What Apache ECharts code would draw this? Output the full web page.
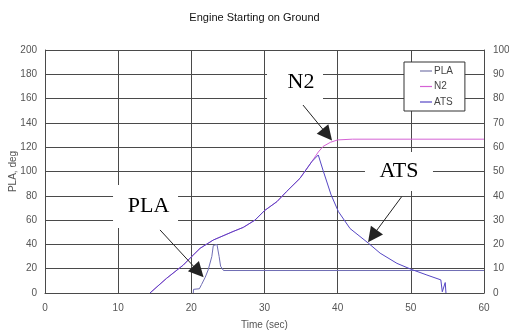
<!DOCTYPE html>
<html>
<head>
<meta charset="utf-8">
<script src="https://cdn.jsdelivr.net/npm/echarts@6/dist/echarts.min.js"></script>
<style>html,body{margin:0;padding:0;background:#fff}#c{width:509px;height:331px}</style>
</head>
<body>
<div id="c"></div>
<script>
// Time (sec), PLA (deg, left axis)
var plaData = [[20.27,0],[20.3,3],[21.1,3.5],[21.4,7],[21.9,13],[22.3,19],[22.5,20],[22.8,30],[23.0,39],[23.2,40.5],[23.5,40],[23.8,30],[24.0,22],[24.4,18.5],[60,18.5]];
// N2 (%, right axis)
var n2Data = [[14.35,0],[16.6,6.0],[18.9,11.5],[20.05,15.0],[21.2,18.4],[23.0,21.8],[25.7,25.3],[27.1,27.0],[28.7,30.0],[30.0,33.9],[31.7,37.6],[33.0,41.7],[34.85,47.2],[36.45,54.0],[37.35,58.0],[38.0,60.3],[39.0,62.0],[40.0,63.0],[42.0,63.3],[60,63.3]];
// ATS (%, right axis)
var atsData = [[14.35,0],[16.6,6.0],[18.9,11.5],[20.05,15.0],[21.2,18.4],[23.0,21.8],[25.7,25.3],[27.1,27.0],[28.7,30.0],[30.0,33.9],[31.7,37.6],[33.0,41.7],[34.85,47.2],[36.45,54.0],[37.35,56.8],[38.0,50.5],[39.1,40.4],[40.1,33.5],[41.7,26.5],[44.2,20.5],[45.8,16.4],[48.1,12.2],[50.0,9.8],[52.2,7.4],[54.1,5.4],[54.3,0.5],[54.5,0],[54.7,4.3],[54.8,0]];
var seriesNames = ['PLA','N2','ATS'];
// annotation labels: [text, time, PLA-axis value]
var labelNotes = [['N2',34.17,173.7],['PLA',13.74,71.2],['ATS',48.38,100]];
// arrows: [from time, from value, to time, to value] (left axis units)
var arrowNotes = [[35.26,154.7,38.58,130.3],[15.72,51.9,20.98,17.6],[48.75,79.3,44.76,46.8]];

var chart = echarts.init(document.getElementById('c'), null, {renderer:'canvas'});
var gridColor = '#4a4a4a';
var labelColor = '#555';
var boxSizes = {'N2':[56,40],'PLA':[65,43],'ATS':[68,39]};
var boxOffsets = {'N2':[6,0],'PLA':[3,0],'ATS':[0,0]};

chart.setOption({
  animation: false,
  backgroundColor: '#fff',
  title: {
    text: 'Engine Starting on Ground',
    left: 'center', top: 7,
    textStyle: {fontFamily: 'Liberation Sans', fontSize: 11, fontWeight: 'normal', color: '#111'}
  },
  legend: {
    data: seriesNames,
    orient: 'vertical',
    left: 404, top: 62,
    padding: [4, 12, 4, 16],
    icon: 'rect',
    itemWidth: 12, itemHeight: 1.2, itemGap: 5.5,
    backgroundColor: '#fff',
    borderColor: '#333', borderWidth: 1,
    textStyle: {fontFamily: 'Liberation Sans', fontSize: 10, color: '#444', lineHeight: 10, padding: [0,0,0,-3]}
  },
  grid: {left: 45, right: 25, top: 50, bottom: 38, containLabel: false, outerBoundsMode: 'none'},
  xAxis: {
    type: 'value', min: 0, max: 60, interval: 10,
    name: 'Time (sec)', nameLocation: 'middle', nameGap: 27, nameMoveOverlap: false,
    nameTextStyle: {fontFamily: 'Liberation Sans', fontSize: 10, color: labelColor},
    axisLine: {lineStyle: {color: gridColor}},
    axisTick: {show: false},
    axisLabel: {fontFamily: 'Liberation Sans', fontSize: 10, color: labelColor, margin: 10},
    splitLine: {show: true, lineStyle: {color: gridColor, width: 1}}
  },
  yAxis: [{
    type: 'value', min: 0, max: 200, interval: 20,
    name: 'PLA, deg', nameLocation: 'middle', nameGap: 27, nameRotate: 90, nameMoveOverlap: false,
    nameTextStyle: {fontFamily: 'Liberation Sans', fontSize: 10, color: labelColor},
    axisLine: {show: true, lineStyle: {color: gridColor}},
    axisTick: {show: false},
    axisLabel: {fontFamily: 'Liberation Sans', fontSize: 10, color: labelColor, margin: 8},
    splitLine: {show: true, lineStyle: {color: gridColor, width: 1}}
  },{
    type: 'value', min: 0, max: 100, interval: 10, position: 'right',
    axisLine: {show: true, lineStyle: {color: gridColor}},
    axisTick: {show: false},
    axisLabel: {fontFamily: 'Liberation Sans', fontSize: 10, color: labelColor, margin: 9},
    splitLine: {show: false}
  }],
  series: [{
    name: 'PLA', type: 'line', yAxisIndex: 0, data: plaData, symbol: 'none',
    lineStyle: {color: '#6f6db4', width: 1}, itemStyle: {color: '#7777aa'}
  },{
    name: 'N2', type: 'line', yAxisIndex: 1, data: n2Data, symbol: 'none',
    lineStyle: {color: '#d562d5', width: 1}, itemStyle: {color: '#d562d5'}
  },{
    name: 'ATS', type: 'line', yAxisIndex: 1, data: atsData, symbol: 'none',
    lineStyle: {color: '#5546c4', width: 1}, itemStyle: {color: '#5546c4'}
  },{
    name: 'notes', type: 'line', yAxisIndex: 0, data: [], symbol: 'none', z: 5,
    markPoint: {
      silent: true,
      data: labelNotes.map(function (n) {
        return {
          coord: [n[1], n[2]], symbol: 'rect', symbolSize: boxSizes[n[0]],
          itemStyle: {color: '#fff'},
          label: {show: true, position: 'inside', formatter: n[0], offset: boxOffsets[n[0]],
                  fontFamily: 'Liberation Serif', fontSize: 22, color: '#000'}
        };
      })
    },
    markLine: {
      silent: true,
      symbol: ['none', 'triangle'],
      symbolSize: 15,
      label: {show: false},
      itemStyle: {color: '#000'},
      lineStyle: {color: '#222', width: 1, type: 'solid', opacity: 1},
      data: arrowNotes.map(function (a) {
        return [{coord: [a[0], a[1]]}, {coord: [a[2], a[3]], itemStyle: {color: '#000'}, lineStyle: {color: '#222'}}];
      })
    }
  }]
});
</script>
</body>
</html>
